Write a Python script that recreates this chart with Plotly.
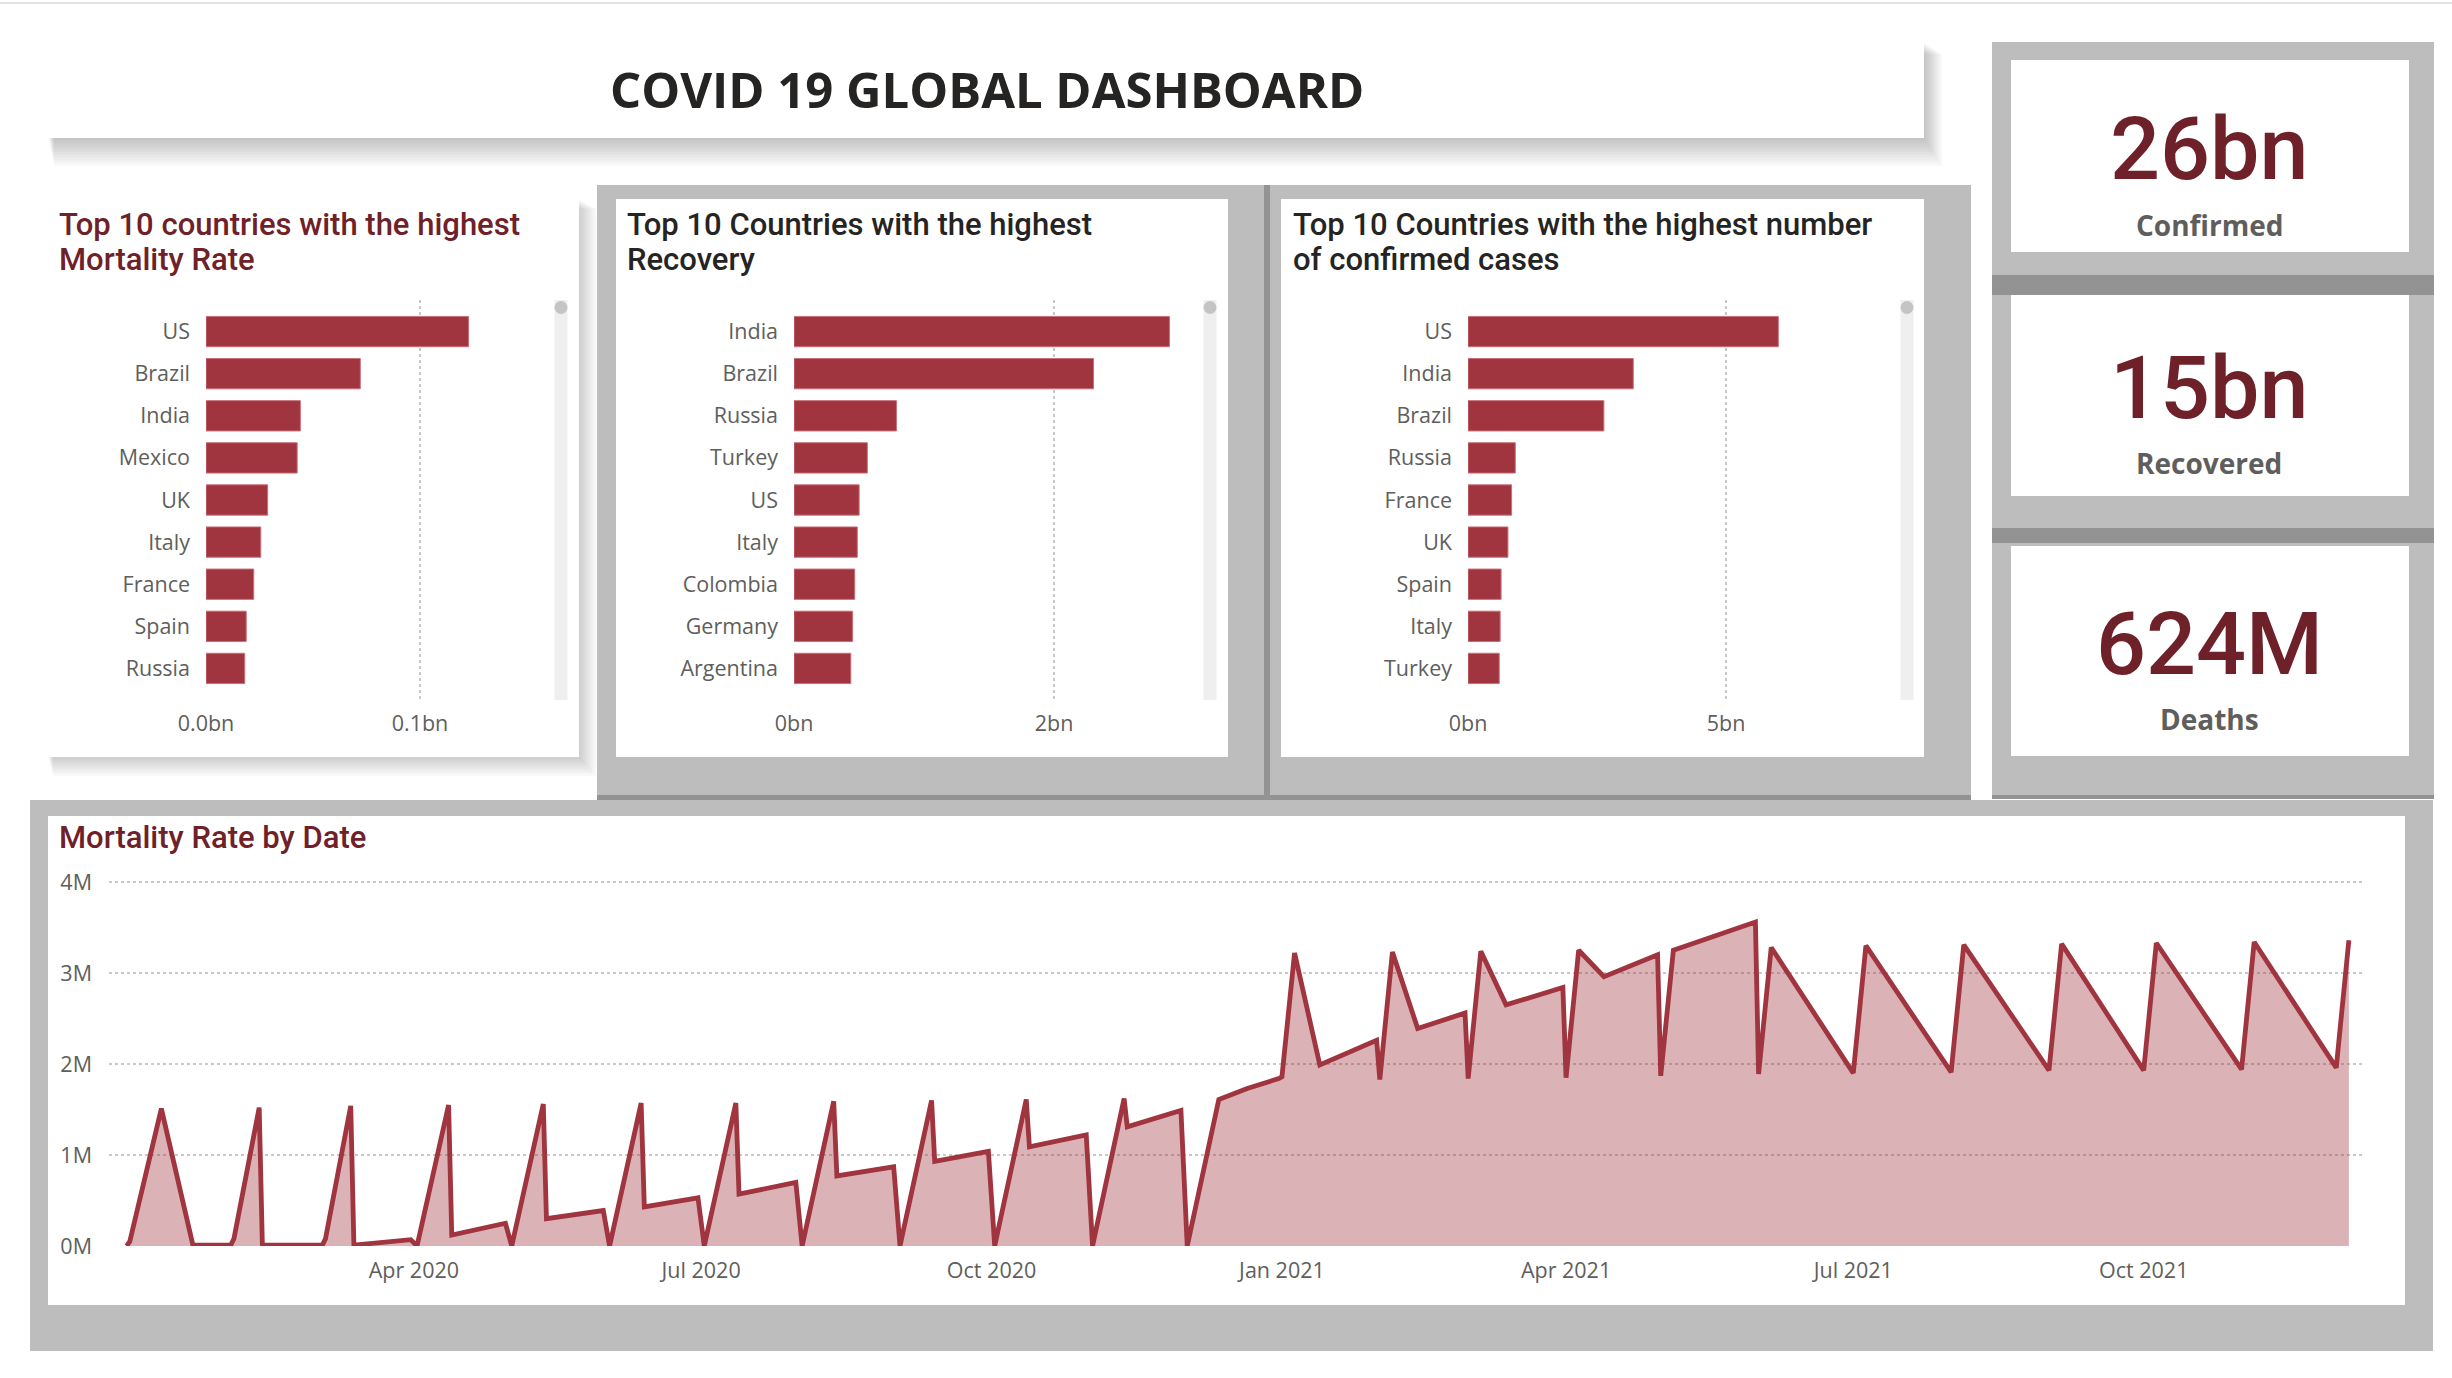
import plotly.graph_objects as go

W, H = 2452, 1378

# ---------------- data ----------------
MORT_COUNTRIES = ["US", "Brazil", "India", "Mexico", "UK", "Italy", "France", "Spain", "Russia"]
MORT_VALUES = [0.1227, 0.0721, 0.0441, 0.0426, 0.0288, 0.0256, 0.0223, 0.0188, 0.0181]  # bn
MORT_TICKS = [0.0, 0.1]
MORT_TICKTEXT = ["0.0bn", "0.1bn"]

REC_COUNTRIES = ["India", "Brazil", "Russia", "Turkey", "US", "Italy", "Colombia", "Germany", "Argentina"]
REC_VALUES = [2.888, 2.304, 0.788, 0.564, 0.501, 0.487, 0.467, 0.451, 0.437]  # bn
REC_TICKS = [0, 2]
REC_TICKTEXT = ["0bn", "2bn"]

CONF_COUNTRIES = ["US", "India", "Brazil", "Russia", "France", "UK", "Spain", "Italy", "Turkey"]
CONF_VALUES = [6.014, 3.203, 2.633, 0.916, 0.845, 0.774, 0.641, 0.623, 0.605]  # bn
CONF_TICKS = [0, 5]
CONF_TICKTEXT = ["0bn", "5bn"]

KPI_VALUES = ["26bn", "15bn", "624M"]
KPI_LABELS = ["Confirmed", "Recovered", "Deaths"]

LINE_DATES = [
    "2020-01-01", "2020-01-02", "2020-01-12", "2020-01-22", "2020-02-03", "2020-02-04", "2020-02-12",
    "2020-02-13", "2020-03-03", "2020-03-04", "2020-03-12", "2020-03-13", "2020-03-31", "2020-04-02",
    "2020-04-12", "2020-04-13", "2020-04-30", "2020-05-02", "2020-05-12", "2020-05-13", "2020-05-31",
    "2020-06-02", "2020-06-12", "2020-06-13", "2020-06-30", "2020-07-02", "2020-07-12", "2020-07-13",
    "2020-07-31", "2020-08-02", "2020-08-12", "2020-08-13", "2020-08-31", "2020-09-02", "2020-09-12",
    "2020-09-13", "2020-09-30", "2020-10-02", "2020-10-12", "2020-10-13", "2020-10-31", "2020-11-02",
    "2020-11-12", "2020-11-13", "2020-11-30", "2020-12-02", "2020-12-12", "2020-12-21", "2020-12-31",
    "2021-01-01", "2021-01-05", "2021-01-13", "2021-01-31", "2021-02-01", "2021-02-05", "2021-02-13",
    "2021-02-28", "2021-03-01", "2021-03-05", "2021-03-13", "2021-03-31", "2021-04-01", "2021-04-05",
    "2021-04-13", "2021-04-30", "2021-05-01", "2021-05-05", "2021-05-31", "2021-06-01", "2021-06-05",
    "2021-07-01", "2021-07-05", "2021-08-01", "2021-08-05", "2021-09-01", "2021-09-05", "2021-10-01",
    "2021-10-05", "2021-11-01", "2021-11-05", "2021-12-01", "2021-12-05",
]
LINE_VALUES = [  # millions
    0.00, 0.05, 1.51, 0.01, 0.01, 0.08, 1.52,
    0.01, 0.01, 0.08, 1.54, 0.01, 0.07, 0.00,
    1.55, 0.12, 0.25, 0.00, 1.56, 0.30, 0.39,
    0.00, 1.57, 0.43, 0.53, 0.00, 1.57, 0.57,
    0.70, 0.00, 1.59, 0.77, 0.87, 0.00, 1.60,
    0.93, 1.04, 0.00, 1.61, 1.09, 1.22, 0.00,
    1.62, 1.31, 1.49, 0.00, 1.61, 1.73, 1.84,
    1.86, 3.22, 1.99, 2.26, 1.83, 3.23, 2.39,
    2.56, 1.84, 3.24, 2.65, 2.84, 1.85, 3.25,
    2.96, 3.20, 1.87, 3.25, 3.56, 1.89, 3.28,
    1.90, 3.30, 1.91, 3.31, 1.93, 3.32, 1.93,
    3.33, 1.94, 3.34, 1.96, 3.36,
]
LINE_YTICKS = [0, 1, 2, 3, 4]
LINE_YTICKTEXT = ["0M", "1M", "2M", "3M", "4M"]
LINE_XTICKS = ["2020-04-01", "2020-07-01", "2020-10-01", "2021-01-01", "2021-04-01", "2021-07-01", "2021-10-01"]
LINE_XTICKTEXT = ["Apr 2020", "Jul 2020", "Oct 2020", "Jan 2021", "Apr 2021", "Jul 2021", "Oct 2021"]

# ---------------- styles ----------------
BAR_COLOR = "#A0343F"
DARK_RED = "#6E2129"
TEXT_GRAY = "#605E5C"
PANEL_GRAY = "#BDBDBD"
SEP_GRAY = "#939393"
FONT_UI = "Open Sans"
FONT_TITLE = "Roboto"


def px(x):
    return x / W


def py(y):
    return 1 - y / H


shapes = []
annotations = []


def rect(x0, y0, x1, y1, color, layer="below"):
    shapes.append(dict(type="rect", xref="paper", yref="paper",
                       x0=px(x0), x1=px(x1), y0=py(y1), y1=py(y0),
                       fillcolor=color, line=dict(width=0), layer=layer))


def shadow(x0, y0, x1, y1, n=10, dx=1.8, dy=2.8, alpha=0.022):
    for k in range(1, n + 1):
        rect(x0 + k * 0.6, y0 + k * 1.2, x1 + k * dx, y1 + k * dy, f"rgba(0,0,0,{alpha})")


# top divider line
rect(0, 2, W, 4, "#E3E3E3")

# title card
shadow(48, 42, 1924, 138)
rect(48, 42, 1924, 138, "white")

# panel 1
shadow(48, 199, 579, 757, n=8, dx=2.2, dy=2.4)
rect(48, 199, 579, 757, "white")

# gray group for panels 2 & 3
rect(597, 185, 1971, 801, PANEL_GRAY)
rect(1264, 185, 1270, 801, SEP_GRAY)
rect(597, 795, 1971, 801, SEP_GRAY)
rect(616, 199, 1228, 757, "white")
rect(1281, 199, 1924, 757, "white")

# KPI group
rect(1992, 42, 2434, 799, PANEL_GRAY)
rect(1992, 275, 2434, 295, SEP_GRAY)
rect(1992, 528, 2434, 543, SEP_GRAY)
rect(1992, 795, 2434, 799, SEP_GRAY)
kpi_cards = [(60, 252), (295, 496), (546, 756)]
for (y0, y1) in kpi_cards:
    rect(2011, y0, 2409, y1, "white")

# bottom group
rect(30, 800, 2433, 1351, PANEL_GRAY)
rect(48, 816, 2405, 1305, "white")

# scrollbars
for sx in (561, 1210, 1907):
    rect(sx - 6.5, 300, sx + 6.5, 700, "#EFEFEF", layer="above")
    shapes.append(dict(type="circle", xref="paper", yref="paper",
                       x0=px(sx - 6.5), x1=px(sx + 6.5), y0=py(314), y1=py(301),
                       fillcolor="#C4C4C4", line=dict(width=0), layer="above"))

# ---------------- texts ----------------
annotations.append(dict(text="COVID 19 GLOBAL DASHBOARD", x=px(987), y=py(89), xref="paper", yref="paper",
                        xanchor="center", yanchor="middle", showarrow=False,
                        font=dict(family=FONT_UI, size=49, color="#252423", weight=700)))

panel_titles = [
    (["Top 10 countries with the highest", "Mortality Rate"], 57, DARK_RED),
    (["Top 10 Countries with the highest", "Recovery"], 625, "#252423"),
    (["Top 10 Countries with the highest number", "of confirmed cases"], 1291, "#252423"),
]
title_line_y = [224, 260]
for lines, x, col in panel_titles:
    for txt, ly in zip(lines, title_line_y):
        annotations.append(dict(text=txt, x=px(x), y=py(ly), xref="paper", yref="paper",
                                xanchor="left", yanchor="middle", align="left", showarrow=False,
                                font=dict(family=FONT_TITLE, size=31, color=col, weight=500)))

annotations.append(dict(text="Mortality Rate by Date", x=px(57), y=py(837), xref="paper", yref="paper",
                        xanchor="left", yanchor="middle", showarrow=False,
                        font=dict(family=FONT_TITLE, size=31, color=DARK_RED, weight=500)))

kpi_num_y = [149, 388, 643]
kpi_lab_y = [225, 463, 719]
for v, lab, ny, ly in zip(KPI_VALUES, KPI_LABELS, kpi_num_y, kpi_lab_y):
    annotations.append(dict(text=v, x=px(2209), y=py(ny), xref="paper", yref="paper",
                            xanchor="center", yanchor="middle", showarrow=False,
                            font=dict(family=FONT_TITLE, size=88, color=DARK_RED, weight=500)))
    annotations.append(dict(text=lab, x=px(2209), y=py(ly), xref="paper", yref="paper",
                            xanchor="center", yanchor="middle", showarrow=False,
                            font=dict(family=FONT_UI, size=28, color=TEXT_GRAY, weight=700)))

# ---------------- traces ----------------
fig = go.Figure()

bar_specs = [
    ("x", "y", MORT_COUNTRIES, MORT_VALUES),
    ("x2", "y2", REC_COUNTRIES, REC_VALUES),
    ("x3", "y3", CONF_COUNTRIES, CONF_VALUES),
]
for xa, ya, cats, vals in bar_specs:
    fig.add_trace(go.Bar(x=vals, y=cats, orientation="h", xaxis=xa, yaxis=ya,
                         marker=dict(color=BAR_COLOR, line=dict(color="#C9707A", width=1)),
                         width=0.72, hoverinfo="skip", showlegend=False))

fig.add_trace(go.Scatter(x=LINE_DATES, y=LINE_VALUES, mode="lines", xaxis="x4", yaxis="y4",
                         line=dict(color=BAR_COLOR, width=4.8), fill="tozeroy",
                         fillcolor="rgba(160,52,63,0.38)", hoverinfo="skip", showlegend=False))

tickfont = dict(family=FONT_UI, size=21.5, color=TEXT_GRAY)


def bar_axes(x0, x1, px_per_unit, ticks, ticktext):
    xa = dict(domain=[px(x0), px(x1)], range=[0, (x1 - x0) / px_per_unit], tickvals=ticks,
              ticktext=ticktext, showgrid=True, gridcolor="#C8C8C8", griddash="dot", gridwidth=1.5,
              zeroline=False, showline=False, ticks="", tickfont=tickfont, ticklabelstandoff=8,
              fixedrange=True, automargin=False)
    ya = dict(domain=[py(700), py(300)], range=[8.75, -0.75], showgrid=False, zeroline=False,
              showline=False, ticks="", tickfont=tickfont, ticklabelstandoff=15, fixedrange=True,
              automargin=False)
    return xa, ya


xa1, ya1 = bar_axes(206, 548, 2140, MORT_TICKS, MORT_TICKTEXT)
xa2, ya2 = bar_axes(794, 1196, 130, REC_TICKS, REC_TICKTEXT)
xa3, ya3 = bar_axes(1468, 1893, 51.6, CONF_TICKS, CONF_TICKTEXT)
ya2["anchor"] = "x2"
xa2["anchor"] = "y2"
ya3["anchor"] = "x3"
xa3["anchor"] = "y3"

fig.update_layout(
    width=W, height=H, margin=dict(l=0, r=0, t=0, b=0, pad=0, autoexpand=False),
    paper_bgcolor="white", plot_bgcolor="rgba(0,0,0,0)",
    shapes=shapes, annotations=annotations, bargap=0.28,
    xaxis=xa1, yaxis=ya1, xaxis2=xa2, yaxis2=ya2, xaxis3=xa3, yaxis3=ya3,
    xaxis4=dict(domain=[px(109), px(2364)], anchor="y4", type="date",
                range=["2019-12-26 10:00", "2021-12-09 19:00"],
                tickvals=LINE_XTICKS, ticktext=LINE_XTICKTEXT, showgrid=False, zeroline=False,
                showline=False, ticks="", tickfont=tickfont, ticklabelstandoff=9, fixedrange=True,
                automargin=False),
    yaxis4=dict(domain=[py(1246), py(876)], anchor="x4", range=[0, 4 + 6 / 91],
                tickvals=LINE_YTICKS, ticktext=LINE_YTICKTEXT, showgrid=True, gridcolor="#C8C8C8",
                griddash="dot", gridwidth=1.5, zeroline=False, showline=False, ticks="",
                tickfont=tickfont, ticklabelstandoff=16, fixedrange=True, automargin=False),
)

fig.write_html("out.html")
